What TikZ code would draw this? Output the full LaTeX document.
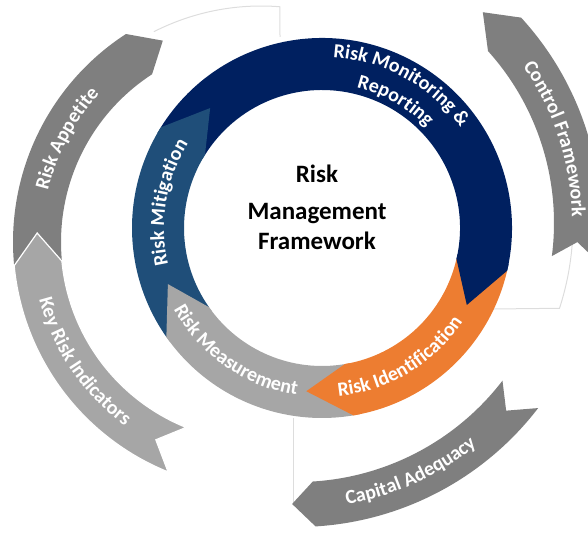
\documentclass[tikz,border=0pt]{standalone}
\usepackage{fontspec}
\setmainfont{Carlito}
\usetikzlibrary{decorations.text}
\definecolor{rmfnavy}{HTML}{002060}
\definecolor{rmfsteel}{HTML}{1F4E79}
\definecolor{rmforange}{HTML}{ED7D31}
\definecolor{rmfgray}{HTML}{A6A6A6}
\definecolor{rmfdark}{HTML}{7F7F7F}
\definecolor{rmflight}{HTML}{A6A6A6}
\definecolor{rmfthin}{HTML}{DDDDDD}
\newcommand{\ringfont}{\fontsize{20}{20}\selectfont\bfseries}
\begin{document}
\begin{tikzpicture}[x=1pt,y=1pt,
    thinline/.style={draw=rmfthin,line width=1pt},
    lbl/.style={decorate,decoration={text along path,text align=center,
      text color=white,text={|\ringfont|#1}}},
    title/.style={anchor=base,font=\fontsize{25}{25}\selectfont\bfseries}]
  \useasboundingbox (0,0) rectangle (588,532);
  \clip (0,0) rectangle (588,532);
  \draw[thinline] (261,290) ++(117:236) arc[start angle=117,end angle=85.4,radius=236] -- (280,495);
  \draw[thinline] (297,309) ++(-4:276) arc[start angle=-4,end angle=-18,radius=276] -- (493,223);
  \draw[thinline] (293,114) -- (293,30);
  % outer ring, left half
  \begin{scope}[shift={(261,290)}]
    \fill[rmfdark] (185.5:248) arc[start angle=185.5,end angle=123,radius=248] -- (116:224)
      -- (123:200) arc[start angle=123,end angle=185.5,radius=200] -- (178:224) -- cycle;
    \filldraw[fill=rmflight,draw=white,line width=1.2pt] (248:248) arc[start angle=248,end angle=185.5,radius=248]
      -- (177.7:224) -- (185.5:200) arc[start angle=185.5,end angle=248,radius=200] -- (242:224) -- cycle;
    \path[lbl=Risk Appetite] (197:219) arc[start angle=197,end angle=107,radius=219];
    \path[lbl=Key Risk Indicators] (169:229) arc[start angle=169,end angle=259,radius=229];
  \end{scope}
  % outer ring, right half
  \begin{scope}[shift={(297,309)}]
    \fill[rmfdark] (-7.4:304) arc[start angle=-7.4,end angle=42.5,radius=304] -- (48.6:281)
      -- (42:257) arc[start angle=42,end angle=-7.4,radius=257] -- (-3.9:281) -- cycle;
    \fill[rmfdark] (-37.5:304) arc[start angle=-37.5,end angle=-86.5,radius=304] -- (-91:281)
      -- (-86.5:259) arc[start angle=-86.5,end angle=-37.5,radius=259] -- (-41.9:281) -- cycle;
    \path[lbl=Control Framework] (48:275) arc[start angle=48,end angle=-12,radius=275];
    \path[lbl=Capital Adequacy] (-95:286) arc[start angle=-95,end angle=-36,radius=286];
  \end{scope}
  % inner ring
  \begin{scope}[shift={(322,304)}]
    \foreach \a/\b/\c in {148/-13/rmfnavy,-13/-80.5/rmforange,-80.5/-145/rmfgray,215/148/rmfsteel}
      \fill[\c] (\a:190) arc[start angle=\a,end angle=\b,radius=190]
        -- (\b:138) arc[start angle=\b,end angle=\a,radius=138] -- cycle;
    \foreach \b/\c in {-13/rmfnavy,-80.5/rmforange,-145/rmfgray,148/rmfsteel}
      \fill[\c] (\b+2:190) arc[start angle=\b+2,end angle=\b,radius=190] -- (\b-15:164)
        -- (\b:138) arc[start angle=\b,end angle=\b+2,radius=138] -- cycle;
    \path[lbl=Risk Monitoring {\&}] (121:171) arc[start angle=121,end angle=1,radius=171];
    \path[lbl=Reporting] (120:145) arc[start angle=120,end angle=0,radius=145];
    \path[lbl=Risk Mitigation] (215:158) arc[start angle=215,end angle=126,radius=158];
    \path[lbl=Risk Measurement] (190:169) arc[start angle=190,end angle=280,radius=169];
    \path[lbl=Risk Identification] (-104:169) arc[start angle=-104,end angle=-14,radius=169];
  \end{scope}
  \node[title] (risk) at (317,349) {Risk};
  \node[title] (mgmt) at (317,312) {Management};
  \node[title] (frame) at (317,282) {Framework};
\end{tikzpicture}
\end{document}
